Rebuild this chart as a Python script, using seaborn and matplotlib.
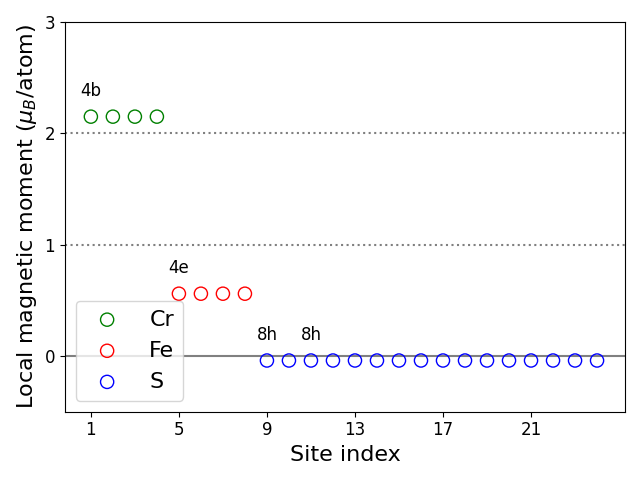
import matplotlib
matplotlib.use("Agg")
import matplotlib.pyplot as plt
import seaborn as sns
import pandas as pd

cr_sites = [1, 2, 3, 4]
cr_moments = [2.15, 2.15, 2.15, 2.15]
fe_sites = [5, 6, 7, 8]
fe_moments = [0.56, 0.56, 0.56, 0.56]
s_sites = list(range(9, 25))
s_moments = [-0.04] * 16

species = ["Cr", "Fe", "S"]
colors = ["green", "red", "blue"]
wyckoff_labels = ["4b", "4e", "8h", "8h"]
wyckoff_x = [1, 5, 9, 11]
wyckoff_y = [2.15, 0.56, -0.04, -0.04]
xticks = [1, 5, 9, 13, 17, 21]
yticks = [0, 1, 2, 3]

fig, ax = plt.subplots(figsize=(6.4, 4.8), dpi=100)

ax.axhline(0, color="gray", lw=1.5, zorder=1)
ax.axhline(1, color="gray", lw=1.5, ls=":", zorder=1)
ax.axhline(2, color="gray", lw=1.5, ls=":", zorder=1)

for name, xs, ys, c in zip(species, [cr_sites, fe_sites, s_sites],
                           [cr_moments, fe_moments, s_moments], colors):
    df = pd.DataFrame({"site": xs, "moment": ys})
    sns.scatterplot(data=df, x="site", y="moment", ax=ax, marker="o", s=90,
                    facecolors="none", edgecolor=c, linewidth=1.0, label=name,
                    zorder=3)

for lab, x, y in zip(wyckoff_labels, wyckoff_x, wyckoff_y):
    ax.text(x, y + 0.15, lab, ha="center", va="bottom", fontsize=12)

ax.set_xlim(-0.18, 25.27)
ax.set_ylim(-0.5, 3)
ax.set_xticks(xticks)
ax.set_yticks(yticks)
ax.tick_params(labelsize=12)
ax.set_xlabel("Site index", fontsize=16)
ax.set_ylabel(r"Local magnetic moment ($\mu_B$/atom)", fontsize=16)
ax.legend(loc="lower left", fontsize=16, handletextpad=0.9)

fig.tight_layout()
fig.savefig("out.png", dpi=100)
